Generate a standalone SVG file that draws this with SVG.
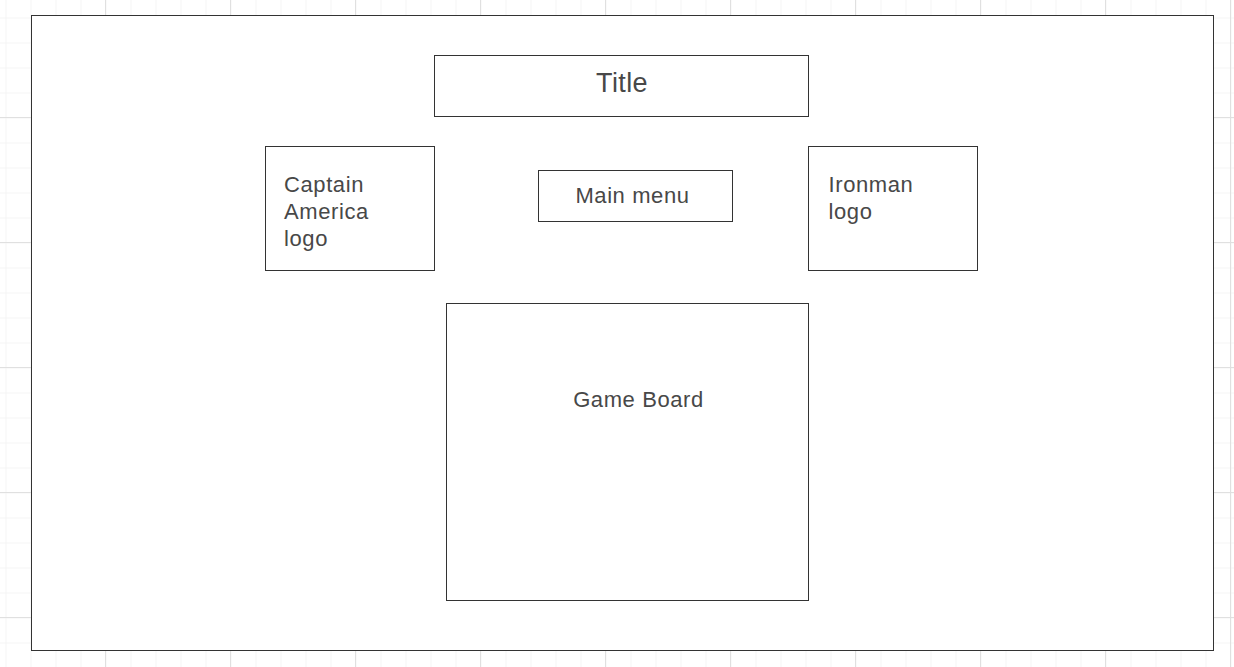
<svg xmlns="http://www.w3.org/2000/svg" width="1234" height="667" viewBox="0 0 1234 667">
  <defs>
    <pattern id="minor" x="5.5" y="17.5" width="25" height="25" patternUnits="userSpaceOnUse">
      <path d="M0 0 H25 M0 0 V25" fill="none" stroke="#ececec" stroke-width="1"/>
    </pattern>
    <pattern id="major" x="-20" y="-8" width="125" height="125" patternUnits="userSpaceOnUse">
      <path d="M0.5 0 V125 M0 0.5 H125" fill="none" stroke="#e0e0e0" stroke-width="1"/>
    </pattern>
  </defs>
  <style>
    .box { fill: #ffffff; stroke: #333333; stroke-width: 1; }
    .lbl { font-family: "Liberation Sans", Arial, sans-serif; font-size: 22px; letter-spacing: 0.6px; fill: #484848; }
    .title { font-family: "Liberation Sans", Arial, sans-serif; font-size: 27px; letter-spacing: 0.4px; fill: #484848; }
  </style>
  <rect x="0" y="0" width="1234" height="667" fill="#ffffff"/>
  <g id="grid">
    <rect x="0" y="0" width="1234" height="667" fill="url(#minor)"/>
    <rect x="0" y="0" width="1234" height="667" fill="url(#major)"/>
  </g>
  <g id="frame">
    <rect class="box" x="31.5" y="15.5" width="1182" height="635"/>
  </g>
  <g id="connectors"></g>
  <g id="title-node">
    <rect class="box" x="434.5" y="55.5" width="374" height="61"/>
    <text class="title" x="622" y="92" text-anchor="middle">Title</text>
  </g>
  <g id="captain-node">
    <rect class="box" x="265.5" y="146.5" width="169" height="124"/>
    <text class="lbl" x="284" y="192">Captain</text>
    <text class="lbl" x="284" y="219">America</text>
    <text class="lbl" x="284" y="246">logo</text>
  </g>
  <g id="menu-node">
    <rect class="box" x="538.5" y="170.5" width="194" height="51"/>
    <text class="lbl" x="632.5" y="203" text-anchor="middle">Main menu</text>
  </g>
  <g id="ironman-node">
    <rect class="box" x="808.5" y="146.5" width="169" height="124"/>
    <text class="lbl" x="828.5" y="192">Ironman</text>
    <text class="lbl" x="828.5" y="219">logo</text>
  </g>
  <g id="board-node">
    <rect class="box" x="446.5" y="303.5" width="362" height="297"/>
    <text class="lbl" x="638.5" y="407" text-anchor="middle">Game Board</text>
  </g>
</svg>
